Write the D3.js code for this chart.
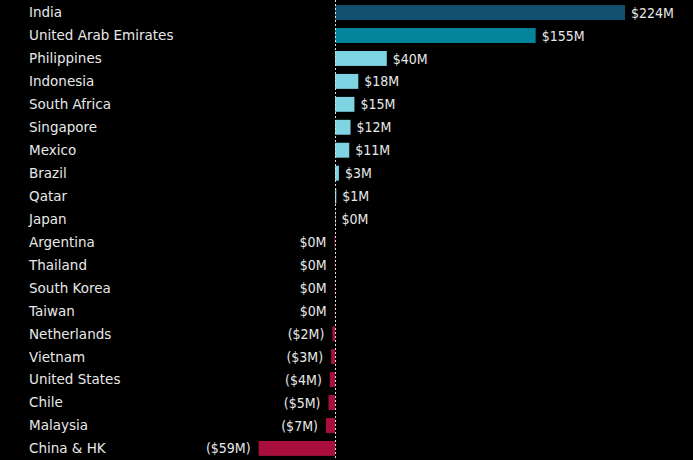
<!DOCTYPE html>
<html>
<head>
<meta charset="utf-8">
<script src="https://cdn.jsdelivr.net/npm/d3@7"></script>
<style>
  html, body { margin: 0; padding: 0; background: #000; }
  svg { display: block; }
</style>
</head>
<body>
<svg id="chart" width="693" height="460"></svg>
<script>
// Net flows by market, millions of USD
const countries = ["India", "United Arab Emirates", "Philippines", "Indonesia", "South Africa",
  "Singapore", "Mexico", "Brazil", "Qatar", "Japan", "Argentina", "Thailand", "South Korea",
  "Taiwan", "Netherlands", "Vietnam", "United States", "Chile", "Malaysia", "China & HK"];
const values = [224, 155, 40, 18, 15, 12, 11, 3, 1, 0.3, -0.4, -0.2, -0.2, -0.2, -2, -3, -4, -5, -7, -59];
const barColors = ["#134f70", "#05849d", "#7ed4e2", "#7ed4e2", "#7ed4e2", "#7ed4e2", "#7ed4e2",
  "#7ed4e2", "#7ed4e2", "#7ed4e2", "#a80f3c", "#a80f3c", "#a80f3c", "#a80f3c", "#a80f3c",
  "#a80f3c", "#a80f3c", "#a80f3c", "#a80f3c", "#a80f3c"];

const svg = d3.select("#chart");
const W = 693, H = 460;

const x = d3.scaleLinear().domain([0, 224]).range([335, 625]);
const y = d3.scaleBand().domain(countries).range([1, 460]).paddingInner(0.35).paddingOuter(0.18);

const fmt = v => {
  const r = Math.round(Math.abs(v));
  return (v < 0 && r > 0) ? `($${r}M)` : `$${r}M`;
};

const rows = countries.map((c, i) => ({ c, v: values[i], col: barColors[i] }));

// bars
svg.append("g").selectAll("rect").data(rows).join("rect")
  .attr("x", d => Math.min(x(0), x(d.v)))
  .attr("y", d => y(d.c))
  .attr("width", d => Math.abs(x(d.v) - x(0)))
  .attr("height", y.bandwidth())
  .attr("fill", d => d.col);

// zero line
svg.append("line")
  .attr("x1", x(0) + 0.5).attr("x2", x(0) + 0.5)
  .attr("y1", 0).attr("y2", H)
  .attr("stroke", "#ddd").attr("stroke-width", 1)
  .attr("stroke-dasharray", "2,2");

// category labels
svg.append("g").selectAll("text").data(rows).join("text")
  .attr("x", 29)
  .attr("y", d => y(d.c) + y.bandwidth() / 2)
  .attr("dy", "0.36em")
  .attr("fill", "#e8e8e8")
  .attr("font-family", "'DejaVu Sans', sans-serif")
  .attr("font-size", 13.5)
  .text(d => d.c);

// value labels
svg.append("g").selectAll("text").data(rows).join("text")
  .attr("x", d => d.v >= 0 ? x(d.v) + 6 : x(d.v) - 8)
  .attr("y", d => y(d.c) + y.bandwidth() / 2)
  .attr("dy", "0.36em")
  .attr("text-anchor", d => d.v >= 0 ? "start" : "end")
  .attr("fill", "#e8e8e8")
  .attr("font-family", "'DejaVu Sans Condensed', 'DejaVu Sans', sans-serif")
  .attr("font-size", 14)
  .text(d => fmt(d.v));
</script>
</body>
</html>
